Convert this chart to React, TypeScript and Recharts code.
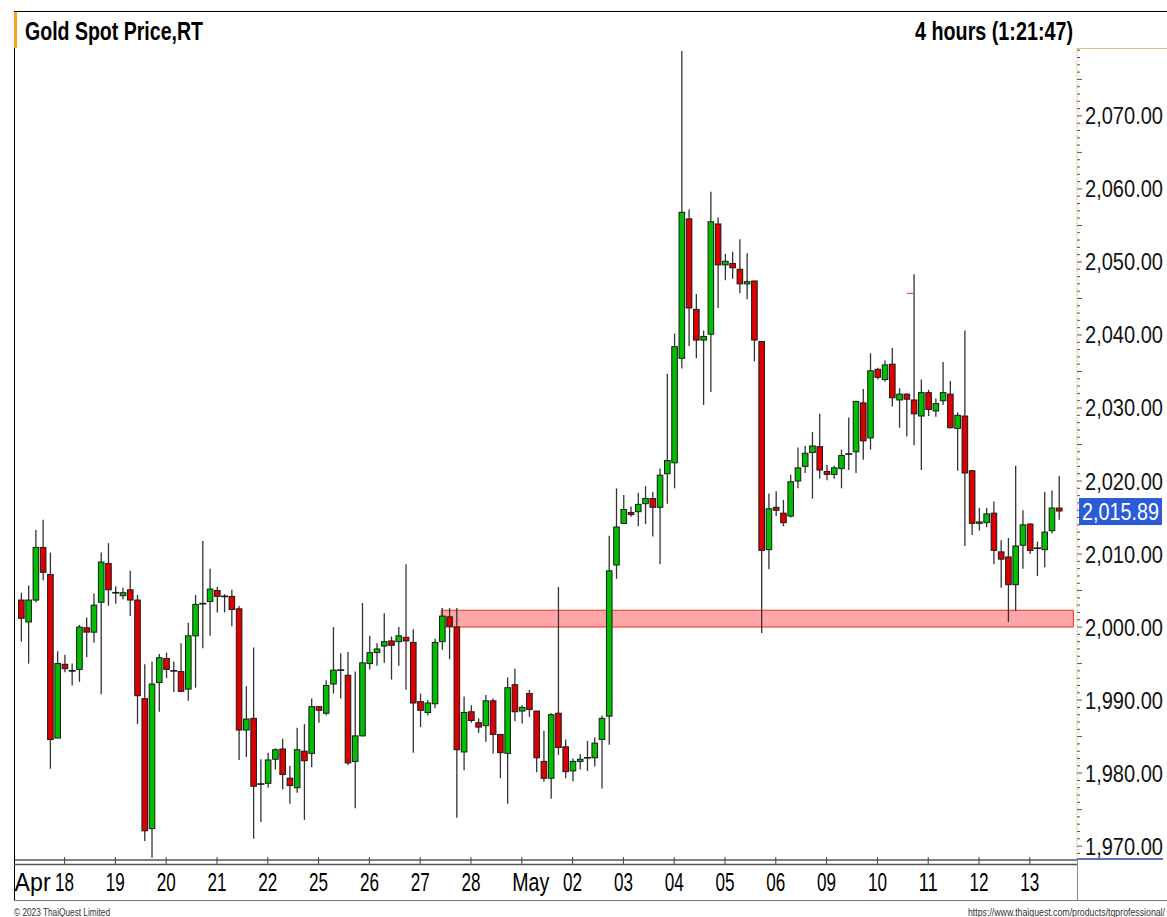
// modules
import { ComposedChart, Bar, XAxis, YAxis, ReferenceArea, ReferenceLine } from "recharts";


// 4h candles, Apr 18 -> May 13
const opens = [
  2003.7, 2000.7, 2003.7, 2010.9, 2007.2, 1984.8, 1994.9, 1994.0, 1994.2, 1999.9,
  1999.3, 2003.4, 2008.7, 2004.7, 2004.3, 2005.1, 2003.7, 1990.2, 1972.4, 1992.4,
  1995.7, 1994.0, 1993.9, 1991.5, 1998.8, 2003.2, 2003.5, 2005.0, 2004.2, 2004.2,
  2002.5, 1985.9, 1987.5, 1978.5, 1978.6, 1981.9, 1983.3, 1979.3, 1978.0, 1983.0,
  1982.7, 1989.1, 1988.2, 1992.2, 1994.1, 1993.4, 1981.6, 1985.1, 1995.0, 1996.5,
  1997.4, 1998.1, 1998.0, 1998.6, 1997.9, 1989.8, 1988.3, 1989.5, 1998.0, 2001.4,
  2000.0, 1982.9, 1988.4, 1986.9, 1986.5, 1989.9, 1985.3, 1982.7, 1992.1, 1988.5,
  1990.9, 1988.5, 1981.6, 1979.3, 1988.2, 1983.6, 1980.3, 1981.6, 1982.1, 1982.1,
  1984.6, 1987.8, 2008.5, 2014.2, 2015.7, 2015.8, 2016.9, 2017.6, 2016.4, 2021.0,
  2022.5, 2036.8, 2055.9, 2043.5, 2039.3, 2040.1, 2055.2, 2049.6, 2049.8, 2049.0,
  2047.0, 2047.4, 2039.1, 2010.6, 2016.4, 2015.6, 2015.2, 2020.0, 2022.0, 2023.9,
  2024.7, 2021.3, 2020.9, 2021.7, 2023.7, 2024.0, 2030.7, 2025.9, 2035.3, 2033.9,
  2036.0, 2031.1, 2031.9, 2031.1, 2028.9, 2032.1, 2029.6, 2031.0, 2031.9, 2027.2,
  2028.9, 2021.4, 2014.2, 2014.3, 2015.6, 2010.3, 2009.6, 2005.8, 2011.2, 2014.1,
  2010.8, 2010.6, 2013.2, 2016.3,
];

const highs = [
  2004.7, 2005.7, 2013.3, 2014.7, 2010.2, 1996.7, 1996.2, 1995.0, 2000.3, 2001.3,
  2004.6, 2010.2, 2011.5, 2005.6, 2005.4, 2007.7, 2004.4, 1994.9, 1995.3, 1996.3,
  1996.5, 1995.3, 1997.8, 2000.6, 2004.4, 2011.8, 2008.0, 2005.5, 2004.5, 2005.1,
  2002.9, 1991.9, 1997.2, 1981.9, 1982.8, 1983.4, 1984.7, 1981.0, 1986.2, 1986.7,
  1990.2, 1989.2, 1992.7, 2000.0, 1996.4, 1996.6, 1993.9, 2003.3, 1998.8, 1997.8,
  2001.9, 1998.7, 2000.0, 2008.6, 1999.7, 1990.9, 1990.0, 1998.4, 2002.6, 2002.6,
  2002.6, 1990.5, 1989.3, 1987.5, 1990.7, 1990.2, 1985.3, 1993.1, 1994.3, 1989.3,
  1991.4, 1988.5, 1985.8, 1988.2, 2005.5, 1984.6, 1982.0, 1982.6, 1984.4, 1984.9,
  1987.9, 2012.5, 2019.0, 2018.1, 2016.5, 2018.4, 2019.3, 2018.5, 2021.7, 2034.7,
  2040.2, 2078.9, 2057.2, 2045.6, 2040.6, 2059.6, 2056.1, 2051.1, 2051.4, 2053.1,
  2051.2, 2047.4, 2039.1, 2018.3, 2018.6, 2017.4, 2020.9, 2024.6, 2024.8, 2026.7,
  2029.2, 2022.2, 2022.1, 2024.3, 2028.7, 2031.0, 2032.6, 2037.5, 2035.5, 2036.5,
  2038.2, 2032.7, 2032.0, 2048.3, 2033.9, 2032.5, 2031.3, 2036.3, 2033.7, 2029.4,
  2040.6, 2021.5, 2016.3, 2016.3, 2017.2, 2011.9, 2012.2, 2022.1, 2016.0, 2014.2,
  2011.7, 2018.5, 2018.7, 2020.7,
];

const lows = [
  1998.0, 1995.0, 2003.4, 2006.4, 1980.6, 1984.8, 1993.8, 1992.0, 1992.5, 1995.9,
  1997.9, 1990.8, 2002.9, 2003.2, 2003.8, 2001.5, 1986.7, 1970.7, 1968.4, 1988.4,
  1993.0, 1991.1, 1991.1, 1989.9, 1991.7, 1997.1, 1998.8, 2002.0, 2002.0, 2000.1,
  1981.8, 1982.2, 1971.0, 1973.3, 1978.0, 1980.5, 1977.8, 1975.8, 1977.3, 1973.6,
  1980.8, 1986.9, 1987.9, 1990.9, 1990.2, 1981.1, 1975.2, 1985.0, 1994.2, 1994.7,
  1995.1, 1992.8, 1994.7, 1991.4, 1982.8, 1986.3, 1987.9, 1988.9, 1996.9, 1995.6,
  1973.9, 1980.4, 1986.9, 1985.5, 1984.3, 1982.7, 1979.3, 1975.8, 1987.1, 1986.8,
  1987.7, 1980.1, 1978.8, 1976.5, 1982.5, 1979.3, 1978.9, 1980.5, 1980.3, 1980.9,
  1977.9, 1983.9, 2006.6, 2014.1, 2015.1, 2013.8, 2014.1, 2012.4, 2008.6, 2016.9,
  2019.0, 2035.4, 2038.5, 2036.8, 2030.4, 2032.2, 2043.7, 2047.5, 2047.7, 2045.7,
  2044.9, 2036.4, 1999.2, 2007.9, 2015.2, 2013.8, 2015.0, 2019.0, 2021.1, 2017.6,
  2020.3, 2020.1, 2020.3, 2019.0, 2021.5, 2021.1, 2022.9, 2024.3, 2033.9, 2033.6,
  2030.2, 2027.3, 2026.1, 2024.9, 2021.5, 2028.9, 2028.8, 2030.4, 2027.2, 2021.4,
  2011.1, 2012.6, 2013.2, 2013.7, 2008.6, 2005.4, 2000.7, 2002.2, 2008.0, 2010.0,
  2007.0, 2008.2, 2012.8, 2014.7,
];

const closes = [
  2001.2, 2003.7, 2010.9, 2007.5, 1984.6, 1995.0, 1994.3, 1994.0, 2000.0, 1999.3,
  2003.0, 2008.9, 2005.1, 2004.7, 2004.7, 2003.7, 1990.6, 1972.1, 1992.2, 1995.8,
  1994.2, 1994.0, 1991.2, 1998.8, 2003.1, 2003.2, 2005.2, 2004.2, 2004.2, 2002.4,
  1985.9, 1987.4, 1978.2, 1978.5, 1981.8, 1983.2, 1979.8, 1978.3, 1983.2, 1981.7,
  1989.1, 1988.6, 1992.0, 1994.1, 1994.1, 1981.4, 1985.1, 1995.1, 1996.5, 1997.0,
  1998.0, 1997.5, 1998.8, 1998.1, 1989.6, 1988.6, 1989.6, 1997.9, 2001.5, 2000.1,
  1983.2, 1988.3, 1987.2, 1986.3, 1989.9, 1985.3, 1982.8, 1991.7, 1988.4, 1989.0,
  1988.7, 1982.1, 1979.3, 1988.0, 1983.5, 1980.2, 1981.6, 1981.9, 1982.1, 1984.1,
  1987.5, 2007.7, 2013.7, 2016.1, 2015.4, 2016.8, 2017.6, 2016.4, 2020.8, 2022.8,
  2038.4, 2056.8, 2043.7, 2039.3, 2039.8, 2055.5, 2049.6, 2050.1, 2049.2, 2047.0,
  2047.3, 2039.3, 2010.5, 2016.2, 2016.0, 2014.3, 2019.9, 2021.8, 2023.8, 2024.8,
  2021.5, 2020.9, 2021.8, 2023.5, 2023.7, 2030.9, 2025.5, 2035.1, 2034.2, 2035.9,
  2031.4, 2031.9, 2031.2, 2029.2, 2032.1, 2029.8, 2030.6, 2032.1, 2027.3, 2029.0,
  2021.1, 2014.2, 2014.4, 2015.5, 2010.5, 2009.3, 2005.8, 2011.1, 2014.0, 2010.5,
  2010.8, 2013.0, 2016.3, 2015.89,
];

// x axis: candle index where each day starts + its label
const dayTickIdx = [6, 13, 20, 27, 34, 41, 48, 55, 62, 69, 76, 83, 90, 97, 104, 111, 118, 125, 132, 139];
const dayLabels = ["18", "19", "20", "21", "22", "25", "26", "27", "28", "May", "02", "03", "04", "05", "06", "09", "10", "11", "12", "13"];
const monthIdx = 1.6;
const monthLabel = "Apr";

// y axis
const priceTicks = [1970, 1980, 1990, 2000, 2010, 2020, 2030, 2040, 2050, 2060, 2070];
const lastPrice = 2015.89;

// support zone + small marker
const zone = { from: 57.9, to: 145, low: 2000.0, high: 2002.3 };
const marker = { from: 122.05, to: 122.95, price: 2045.7 };


const yDomain = [1968.1, 2079.3];
const xDomain = [-0.965, 145.5];

const minorLevels: number[] = [];
for (let v = 1969; v <= 2079; v++) minorLevels.push(v);

const rows = opens.map((o, i) => ({
  i,
  o,
  h: highs[i],
  l: lows[i],
  c: closes[i],
  range: [lows[i], highs[i]],
}));

const allXTicks = [monthIdx, ...dayTickIdx];

const FONT = "'Liberation Sans', Arial, sans-serif";

const fmt = (v: number) => v.toLocaleString("en-US", { minimumFractionDigits: 2, maximumFractionDigits: 2 });


// narrow text: squeezed horizontally, final width = w
function NText({ x, y, w, sx, size, bold, anchor, fill, children }: any) {
  return (
    <text
      transform={`translate(${x} ${y}) scale(${sx} 1)`}
      fontFamily={FONT}
      fontSize={size}
      fontWeight={bold ? "bold" : "normal"}
      textAnchor={anchor || "start"}
      fill={fill || "#000"}
      textLength={w / sx}
      lengthAdjust="spacingAndGlyphs"
    >
      {children}
    </text>
  );
}

function Candle(props: any) {
  const { x, y, width, height, payload } = props;
  if (!payload || height == null) return null;
  const { o, h, l, c } = payload;
  const cx = x + width / 2;
  const k = height / (h - l);
  const yOf = (v: number) => y + (h - v) * k;
  const top = yOf(Math.max(o, c));
  const bot = yOf(Math.min(o, c));

  return (
    <g>
      <line x1={cx} x2={cx} y1={y} y2={y + height} stroke="#333" strokeWidth={1.3} />
      {o === c ? (
        <line x1={cx - 3.5} x2={cx + 3.5} y1={top} y2={top} stroke="#111" strokeWidth={1.6} />
      ) : (
        <rect
          x={cx - 2.8}
          y={top}
          width={5.6}
          height={Math.max(bot - top, 1.2)}
          fill={c > o ? "#00be00" : "#dc0000"}
          stroke="#1a1a1a"
          strokeWidth={1}
        />
      )}
    </g>
  );
}

function XTick(props: any) {
  const { x, y, payload } = props;
  const v = payload.value;
  if (v === monthIdx) {
    return (
      <NText x={x} y={y + 31} w={36} sx={0.7} size={25} anchor="middle">
        {monthLabel}
      </NText>
    );
  }
  const k = dayTickIdx.indexOf(v);
  const label = k >= 0 ? dayLabels[k] : "";
  const isMonth = label.length > 2;
  return (
    <g>
      <line x1={x} x2={x} y1={y - 3} y2={y + 4} stroke="#444" strokeWidth={1} />
      <NText x={isMonth ? x + 9 : x} y={y + 31} w={isMonth ? 37 : 19} sx={0.68} size={25} anchor="middle">
        {label}
      </NText>
    </g>
  );
}

function LeftTick(props: any) {
  const { x, y, payload } = props;
  const major = payload.value % 5 === 0;
  return <line x1={x} x2={x + (major ? 5 : 3)} y1={y} y2={y} stroke="#222" strokeWidth={1} />;
}

function RightTick(props: any) {
  const { x, y, payload } = props;
  const v = payload.value;
  const major = v % 5 === 0;
  const labelled = priceTicks.includes(v);
  return (
    <g>
      <line x1={x} x2={x + (major ? 5 : 3)} y1={y} y2={y} stroke="#555" strokeWidth={1} />
      {labelled && (
        <NText x={x + 8} y={y + 8.5} w={78} sx={0.84} size={24} fill="#111">
          {fmt(v)}
        </NText>
      )}
    </g>
  );
}

function PriceTag(props: any) {
  const vb = props.viewBox;
  if (!vb) return null;
  const left = vb.x + vb.width + 2;
  return (
    <g>
      <rect x={left} y={vb.y - 13} width={83} height={27} fill="#2b5bd6" />
      <NText x={left + 3} y={vb.y + 9} w={77} sx={0.83} size={24} fill="#fff">
        {fmt(lastPrice)}
      </NText>
    </g>
  );
}


export default function App() {
  return (
    <div style={{ position: "absolute", left: 0, top: 0, width: 1167, height: 917, background: "#fff", overflow: "hidden" }}>
      <ComposedChart width={1167} height={917} data={rows} margin={{ top: 48, right: 0, bottom: 17, left: 14 }}>
        <XAxis
          type="number"
          dataKey="i"
          domain={xDomain}
          allowDataOverflow
          ticks={allXTicks}
          interval={0}
          height={40}
          tickSize={0}
          tickMargin={0}
          tickLine={false}
          axisLine={{ stroke: "#000", strokeWidth: 1.2 }}
          tick={(p: any) => <XTick {...p} />}
        />
        <YAxis
          yAxisId="left"
          orientation="left"
          mirror
          width={0}
          domain={yDomain}
          allowDataOverflow
          ticks={minorLevels}
          interval={0}
          tickSize={0}
          tickMargin={0}
          tickLine={false}
          axisLine={false}
          tick={(p: any) => <LeftTick {...p} />}
        />
        <YAxis
          yAxisId="price"
          orientation="right"
          width={90}
          domain={yDomain}
          allowDataOverflow
          ticks={minorLevels}
          interval={0}
          tickSize={0}
          tickMargin={0}
          tickLine={false}
          axisLine={{ stroke: "#dcc77a", strokeDasharray: "2 1" }}
          tick={(p: any) => <RightTick {...p} />}
        />
        <ReferenceArea
          yAxisId="price"
          x1={zone.from}
          x2={zone.to}
          y1={zone.low}
          y2={zone.high}
          fill="#ff5050"
          fillOpacity={0.5}
          stroke="#ee2a2a"
          strokeWidth={1}
          ifOverflow="visible"
        />
        <Bar
          yAxisId="price"
          dataKey="range"
          barSize={6}
          isAnimationActive={false}
          shape={(p: any) => <Candle {...p} />}
        />
        <ReferenceLine
          yAxisId="price"
          segment={[{ x: marker.from, y: marker.price }, { x: marker.to, y: marker.price }]}
          stroke="#ee3333"
          strokeWidth={1}
        />
        <ReferenceLine yAxisId="price" y={lastPrice} stroke="none" ifOverflow="visible" label={(p: any) => <PriceTag {...p} />} />
      </ComposedChart>

      <svg width={1167} height={917} style={{ position: "absolute", left: 0, top: 0, pointerEvents: "none" }}>
        <line x1={14} x2={1167} y1={11.5} y2={11.5} stroke="#000" strokeWidth={1} />
        <line x1={14.5} x2={14.5} y1={11} y2={900} stroke="#000" strokeWidth={1} />
        <rect x={14} y={12} width={3} height={36} fill="#f5a623" />
        <NText x={25} y={40} w={178} sx={0.75} size={26} bold>
          Gold Spot Price,RT
        </NText>
        <NText x={915} y={40} w={158} sx={0.75} size={26} bold>
          4 hours (1:21:47)
        </NText>
        <line x1={1077} x2={1167} y1={48.5} y2={48.5} stroke="#dcc77a" strokeWidth={1} />
        <line x1={14} x2={1077} y1={864.5} y2={864.5} stroke="#555" strokeWidth={1.5} />
        <line x1={1077} x2={1163} y1={859} y2={859} stroke="#2244aa" strokeWidth={1.5} />
        <line x1={1077.5} x2={1077.5} y1={860} y2={900} stroke="#888" strokeWidth={1} />
        <line x1={14} x2={1167} y1={900.5} y2={900.5} stroke="#777" strokeWidth={1} />
        <NText x={14} y={916} w={96} sx={0.75} size={11} fill="#333">
          © 2023 ThaiQuest Limited
        </NText>
        <NText x={968} y={916} w={197} sx={0.7} size={11} fill="#333">
          https://www.thaiquest.com/products/tqprofessional/
        </NText>
      </svg>
    </div>
  );
}
